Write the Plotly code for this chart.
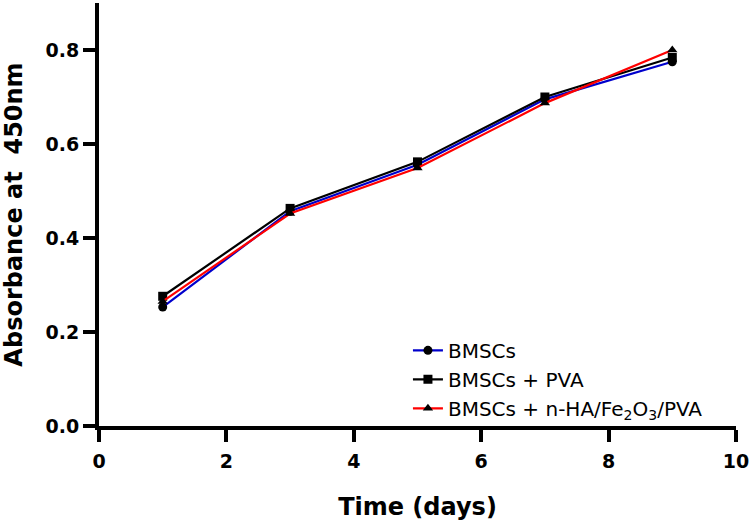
import plotly.graph_objects as go

days = [1, 3, 5, 7, 9]
bmsc = [0.253, 0.457, 0.556, 0.695, 0.775]
bmsc_pva = [0.276, 0.463, 0.562, 0.700, 0.784]
bmsc_ha = [0.265, 0.452, 0.549, 0.687, 0.800]

names = ["BMSCs", "BMSCs + PVA", "BMSCs + n-HA/Fe<sub>2</sub>O<sub>3</sub>/PVA"]
colors = ["#0000cc", "#000000", "#ff0000"]
symbols = ["circle", "square", "triangle-up"]
series = [bmsc, bmsc_pva, bmsc_ha]

fig = go.Figure()
for n, c, s, v in zip(names, colors, symbols, series):
    fig.add_trace(go.Scatter(
        x=days, y=v, name=n, mode="lines+markers",
        line=dict(color=c, width=2.2),
        marker=dict(symbol=s, color="black", size=9),
    ))

FONT = "DejaVu Sans"
tick_font = dict(family=FONT, size=19, color="black", weight="bold")
title_font = dict(family=FONT, size=24, color="black", weight="bold")
fig.update_layout(
    width=750, height=521,
    margin=dict(l=99, r=14, t=3, b=95),
    plot_bgcolor="white", paper_bgcolor="white",
    font=dict(family=FONT, color="black"),
    legend=dict(x=0.485, y=0.225, xanchor="left", yanchor="top",
                font=dict(size=20, family=FONT, color="black"),
                bgcolor="rgba(0,0,0,0)", tracegroupgap=0),
    xaxis=dict(range=[0, 10], tickvals=[0, 2, 4, 6, 8, 10], showgrid=False, zeroline=False,
               showline=True, linecolor="black", linewidth=4, ticks="outside",
               ticklen=12, tickwidth=4, tickcolor="black", tickfont=tick_font,
               automargin=False, ticklabelstandoff=3,
               title=dict(text="Time (days)", font=title_font, standoff=30)),
    yaxis=dict(range=[0, 0.9], tickvals=[0, 0.2, 0.4, 0.6, 0.8], tickformat=".1f",
               showgrid=False, zeroline=False,
               showline=True, linecolor="black", linewidth=4, ticks="outside",
               ticklen=12, tickwidth=4, tickcolor="black", tickfont=tick_font,
               automargin=False,
               title=dict(text="Absorbance at  450nm", font=title_font, standoff=22)),
)
fig.write_html("out.html", config={"displayModeBar": False},
               post_script="document.body.style.margin='0';")
